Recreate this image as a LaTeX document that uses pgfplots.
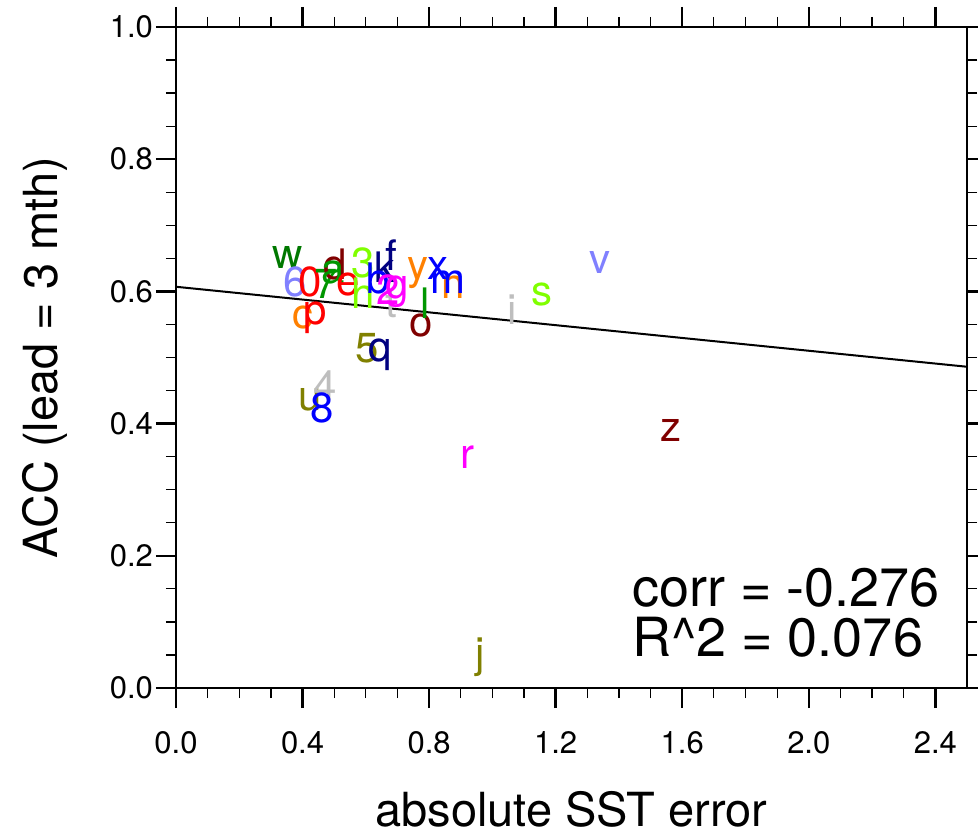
\documentclass[border=0pt]{standalone}
\usepackage{fontspec}
\setmainfont{TeX Gyre Heros}
\usepackage{pgfplots}
\pgfplotsset{compat=1.18}

\definecolor{cdkgreen}{RGB}{0,120,0}
\definecolor{cgreen}{RGB}{0,150,0}
\definecolor{cred}{RGB}{255,0,0}
\definecolor{cperi}{RGB}{128,128,255}
\definecolor{corange}{RGB}{255,128,0}
\definecolor{clgreen}{RGB}{128,255,0}
\definecolor{cblue}{RGB}{0,0,255}
\definecolor{cnavy}{RGB}{0,0,128}
\definecolor{cmag}{RGB}{255,0,255}
\definecolor{cgray}{RGB}{190,190,190}
\definecolor{colive}{RGB}{128,128,0}
\definecolor{cdkred}{RGB}{128,0,0}

% one letter per model
\newcommand{\lab}[4]{\addplot[only marks, mark=text, text mark={#1}, text mark as node=true,
  text mark style={font=\fontsize{21}{24}\selectfont, text=#4, inner sep=0pt}] coordinates {(#2,#3)};}

\begin{document}
\begin{tikzpicture}
\begin{axis}[
    scale only axis,
    width=395.5pt, height=330.5pt,
    xmin=0, xmax=2.5, ymin=0, ymax=1,
    xtick distance=0.4, ytick distance=0.2,
    minor tick num=3,
    tick align=outside,
    major tick length=10pt, minor tick length=5pt,
    axis line style={line width=1pt},
    every major tick/.style={line width=1.2pt, black},
    every minor tick/.style={line width=0.6pt, black},
    xticklabel style={font=\fontsize{15.5}{18}\selectfont, yshift=-8pt},
    yticklabel style={font=\fontsize{15.5}{18}\selectfont, xshift=2pt},
    /pgf/number format/assume math mode=true,
    /pgf/number format/.cd, fixed, fixed zerofill, precision=1, /pgfplots/.cd,
    xlabel={absolute SST error},
    ylabel={ACC (lead = 3 mth)},
    xlabel style={font=\fontsize{23.5}{28}\selectfont, at={([yshift=-69pt]axis description cs:0.5,0)}, anchor=base},
    ylabel style={font=\fontsize{23.5}{28}\selectfont, at={([xshift=-59pt]axis description cs:0,0.5)}, anchor=base},
    clip=false,
]
\addplot[black, line width=1pt, no marks] coordinates {(0,0.607) (2.5,0.486)};

\lab{w}{0.354}{0.651}{cdkgreen}
\lab{6}{0.376}{0.614}{cperi}
\lab{0}{0.423}{0.614}{cred}
\lab{7}{0.474}{0.611}{cgreen}
\lab{d}{0.502}{0.640}{cdkred}
\lab{a}{0.496}{0.629}{cgreen}
\lab{e}{0.543}{0.610}{cred}
\lab{3}{0.591}{0.643}{clgreen}
\lab{h}{0.591}{0.598}{clgreen}
\lab{k}{0.660}{0.637}{cnavy}
\lab{b}{0.638}{0.620}{cblue}
\lab{f}{0.682}{0.655}{cnavy}
\lab{t}{0.682}{0.582}{cgray}
\lab{2}{0.670}{0.602}{cmag}
\lab{g}{0.698}{0.599}{cmag}
\lab{c}{0.401}{0.561}{corange}
\lab{p}{0.439}{0.560}{cred}
\lab{y}{0.764}{0.628}{corange}
\lab{n}{0.875}{0.607}{corange}
\lab{m}{0.859}{0.614}{cblue}
\lab{x}{0.827}{0.635}{cblue}
\lab{o}{0.774}{0.549}{cdkred}
\lab{l}{0.789}{0.582}{cgreen}
\lab{i}{1.064}{0.572}{cgray}
\lab{s}{1.156}{0.595}{clgreen}
\lab{v}{1.339}{0.643}{cperi}
\lab{5}{0.603}{0.514}{colive}
\lab{q}{0.644}{0.504}{cnavy}
\lab{u}{0.423}{0.436}{colive}
\lab{4}{0.470}{0.458}{cgray}
\lab{8}{0.461}{0.424}{cblue}
\lab{z}{1.566}{0.390}{cdkred}
\lab{r}{0.922}{0.349}{cmag}
\lab{j}{0.960}{0.047}{colive}

\node[anchor=north west, align=left, inner sep=0pt, font=\fontsize{27}{25}\selectfont]
  at (axis cs:1.44,0.182) {corr = -0.276\\R\textasciicircum 2 = 0.076};
\end{axis}
\pgfresetboundingbox
\useasboundingbox (current axis.south west) ++(-88pt,-73pt) rectangle ++(489pt,417pt);
\end{tikzpicture}
\end{document}
